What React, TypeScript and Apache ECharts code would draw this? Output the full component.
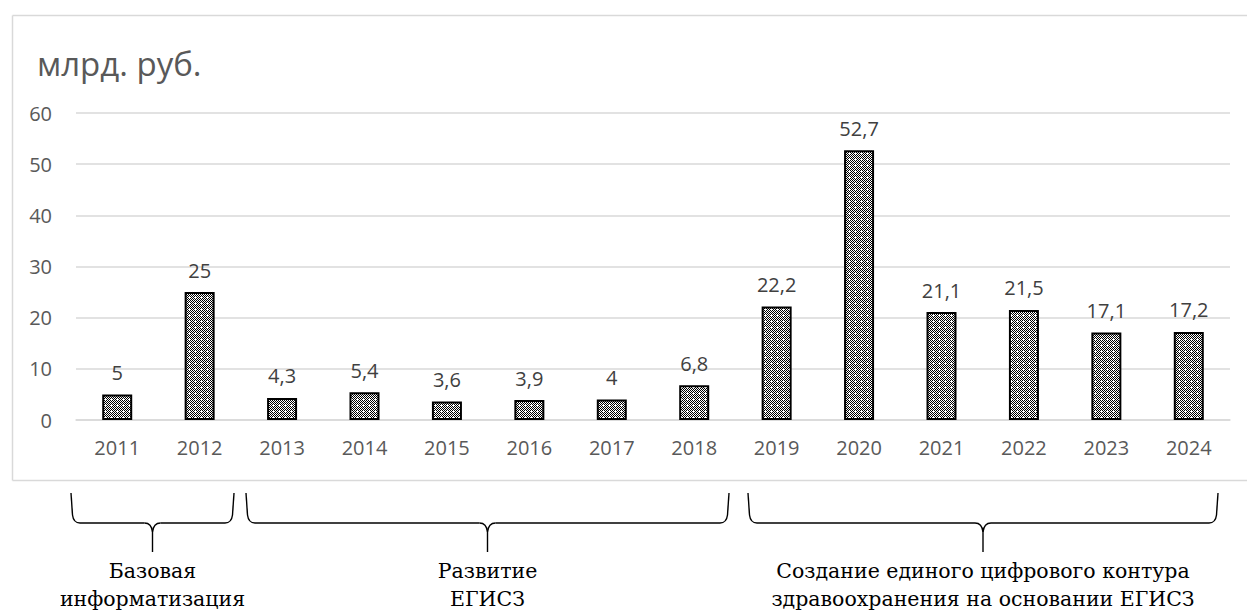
import React, { useEffect, useRef } from "react";
import * as echarts from "echarts";

// Annual spending, billions of roubles
const years = ["2011", "2012", "2013", "2014", "2015", "2016", "2017", "2018", "2019", "2020", "2021", "2022", "2023", "2024"];
const values = [5, 25, 4.3, 5.4, 3.6, 3.9, 4, 6.8, 22.2, 52.7, 21.1, 21.5, 17.1, 17.2];
const yTicks = [0, 10, 20, 30, 40, 50, 60];

// Program stages shown under the axis
const stageLines = [
  ["Базовая", "информатизация"],
  ["Развитие", "ЕГИСЗ"],
  ["Создание единого цифрового контура", "здравоохранения на основании ЕГИСЗ"],
];
const stageSpans = [
  [71, 234],
  [246, 729],
  [748, 1218],
];

const SANS = "Open Sans";
const SERIF = "DejaVu Serif";

function makeChecker(): string {
  const c = document.createElement("canvas");
  c.width = 6;
  c.height = 6;
  const ctx = c.getContext("2d")!;
  ctx.fillStyle = "#ffffff";
  ctx.fillRect(0, 0, 6, 6);
  ctx.fillStyle = "#000000";
  for (let y = 0; y < 6; y++) {
    for (let x = 0; x < 6; x++) {
      if ((x + y) % 2 === 0) ctx.fillRect(x, y, 1, 1);
    }
  }
  // small white cross every tile
  ctx.fillStyle = "#ffffff";
  ctx.fillRect(3, 2, 1, 3);
  ctx.fillRect(2, 3, 3, 1);
  return c.toDataURL();
}

function braceElements(x0: number, x1: number) {
  const top = 493;
  const mid = 523;
  const bot = 552;
  const cx = (x0 + x1) / 2;
  const style = { stroke: "#000", lineWidth: 1.4, fill: "none" };
  return [
    { type: "line", shape: { x1: x0, y1: top, x2: x0 + 1.5, y2: mid - 8 }, style },
    { type: "bezierCurve", shape: { x1: x0 + 1.5, y1: mid - 8, x2: x0 + 9, y2: mid, cpx1: x0 + 2.5, cpy1: mid }, style },
    { type: "line", shape: { x1: x0 + 9, y1: mid, x2: cx - 8, y2: mid }, style },
    { type: "bezierCurve", shape: { x1: cx - 8, y1: mid, x2: cx, y2: mid + 9, cpx1: cx - 1, cpy1: mid }, style },
    { type: "bezierCurve", shape: { x1: cx + 8, y1: mid, x2: cx, y2: mid + 9, cpx1: cx + 1, cpy1: mid }, style },
    { type: "line", shape: { x1: cx, y1: mid + 9, x2: cx, y2: bot }, style },
    { type: "line", shape: { x1: cx + 8, y1: mid, x2: x1 - 9, y2: mid }, style },
    { type: "bezierCurve", shape: { x1: x1 - 1.5, y1: mid - 8, x2: x1 - 9, y2: mid, cpx1: x1 - 2.5, cpy1: mid }, style },
    { type: "line", shape: { x1: x1, y1: top, x2: x1 - 1.5, y2: mid - 8 }, style },
  ];
}

export default function App() {
  const ref = useRef<HTMLDivElement>(null);

  useEffect(() => {
    if (!ref.current) return;
    const chart = echarts.init(ref.current, undefined, { renderer: "svg" });
    const pattern = makeChecker();

    const graphics: any[] = [
      // chart frame
      { type: "line", shape: { x1: 12.5, y1: 15.5, x2: 1247, y2: 15.5 }, style: { stroke: "#d9d9d9", lineWidth: 1.5 } },
      { type: "line", shape: { x1: 12.5, y1: 15.5, x2: 12.5, y2: 480.5 }, style: { stroke: "#d9d9d9", lineWidth: 1.5 } },
      { type: "line", shape: { x1: 12.5, y1: 480.5, x2: 1247, y2: 480.5 }, style: { stroke: "#d9d9d9", lineWidth: 1.5 } },
      {
        type: "text",
        x: 37,
        y: 63,
        style: {
          text: "млрд. руб.",
          fontFamily: SANS,
          fontSize: 33,
          fill: "#595959",
          verticalAlign: "middle",
        },
      },
    ];
    stageSpans.forEach(([a, b], i) => {
      graphics.push(...braceElements(a, b));
      const cx = (a + b) / 2;
      stageLines[i].forEach((t, j) => {
        graphics.push({
          type: "text",
          x: cx,
          y: 571 + j * 28,
          style: {
            text: t,
            fontFamily: SERIF,
            fontSize: 20.5,
            fill: "#000",
            align: "center",
            verticalAlign: "middle",
          },
        });
      });
    });

    chart.setOption({
      animation: false,
      textStyle: { fontFamily: SANS },
      grid: { left: 76, right: 17, top: 113, bottom: 194, containLabel: false },
      xAxis: {
        type: "category",
        data: years,
        axisLine: { show: true, lineStyle: { color: "#d9d9d9", width: 1.5 } },
        axisTick: { show: false },
        axisLabel: { color: "#595959", fontFamily: SANS, fontSize: 20, margin: 17 },
      },
      yAxis: {
        type: "value",
        min: yTicks[0],
        max: yTicks[yTicks.length - 1],
        interval: 10,
        axisLine: { show: false },
        axisTick: { show: false },
        axisLabel: { color: "#595959", fontFamily: SANS, fontSize: 20, margin: 24 },
        splitLine: { lineStyle: { color: "#d9d9d9", width: 1.5 } },
      },
      series: [
        {
          type: "bar",
          data: values,
          barWidth: 30,
          itemStyle: {
            color: { image: pattern, repeat: "repeat" } as any,
            borderColor: "#000",
            borderWidth: 2,
          },
          label: {
            show: true,
            position: "top",
            distance: 12,
            color: "#404040",
            fontFamily: SANS,
            fontSize: 20,
            formatter: (p: any) => String(p.value).replace(".", ","),
          },
        },
      ],
      graphic: graphics,
    });

    return () => chart.dispose();
  }, []);

  return (
    <div
      ref={ref}
      style={{ position: "fixed", left: 0, top: 0, width: 1247, height: 614, background: "#fff" }}
    />
  );
}
